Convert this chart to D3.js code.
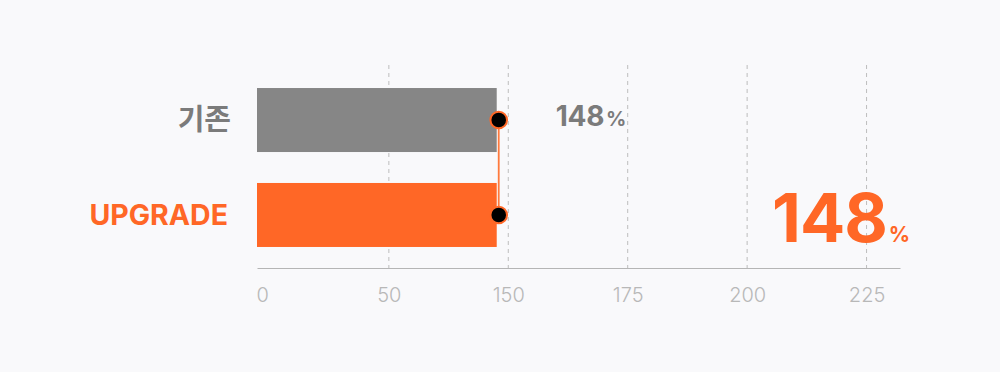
<!DOCTYPE html>
<html>
<head>
<meta charset="utf-8">
<script src="https://cdn.jsdelivr.net/npm/d3@7"></script>
<style>
  html, body { margin: 0; padding: 0; background: #f9f9fb; }
  svg { display: block; font-family: Inter, "Noto Sans CJK KR", "Noto Sans", sans-serif; }
</style>
</head>
<body>
<svg id="chart" width="1000" height="372"></svg>
<script>
// ---- data ----
const categories = ["기존", "UPGRADE"];
const values = [148, 148];
const colors = ["#868686", "#ff6726"];
const labelColors = ["#7b7b7b", "#ff6726"];
// axis: visible scale section and the tick labels shown under it
const gridValues = [125, 150, 175, 200, 225];
const tickLabels = ["0", "50", "150", "175", "200", "225"];
const domainX = [97.4, 232];

(function () {
const svg = d3.select("#chart");
const mLeft = 257, mRight = 900, mTop = 65, mBottom = 268;

const x = d3.scaleLinear().domain(domainX).range([mLeft, mRight]);
const y = d3.scaleBand().domain(categories).range([mTop + 1, mBottom + 1])
  .paddingInner(0.326).paddingOuter(0.232);

// gridlines
svg.append("g").selectAll("line").data(gridValues).join("line")
  .attr("x1", d => x(d)).attr("x2", d => x(d))
  .attr("y1", mTop).attr("y2", mBottom)
  .attr("stroke", "#bdbdbd").attr("stroke-width", 1)
  .attr("stroke-dasharray", "4,4");

// axis
const tickPositions = [domainX[0]].concat(gridValues);
const axis = d3.axisBottom(x).tickValues(tickPositions)
  .tickSize(0).tickPadding(0)
  .tickFormat((d, i) => tickLabels[i]);
const gAxis = svg.append("g").attr("transform", `translate(0,${mBottom})`).call(axis);
gAxis.select(".domain").attr("stroke", "#b5b5b5").attr("stroke-width", 1.2);
gAxis.selectAll(".tick text")
  .attr("y", 34)
  .attr("dy", 0)
  .attr("fill", "#b8b8b8")
  .attr("font-size", 20)
  .attr("font-weight", 300)
  .attr("font-family", "Inter, sans-serif")
  .attr("text-anchor", (d, i) => i === 0 ? "start" : "middle")
  .attr("dx", (d, i) => i === 0 ? -1 : 0);

// bars
svg.append("g").selectAll("rect").data(categories).join("rect")
  .attr("x", mLeft)
  .attr("y", d => y(d))
  .attr("width", (d, i) => x(values[i]) - mLeft - 2)
  .attr("height", y.bandwidth())
  .attr("fill", (d, i) => colors[i]);

// category labels
svg.append("g").selectAll("text").data(categories).join("text")
  .attr("x", (d, i) => i === 0 ? 231 : 228)
  .attr("y", d => y(d) + y.bandwidth() / 2)
  .attr("dy", "0.36em")
  .attr("text-anchor", "end")
  .attr("fill", (d, i) => labelColors[i])
  .attr("font-size", (d, i) => i === 0 ? 29 : 28.5)
  .attr("font-weight", 700)
  .text(d => d);

// connector line
const cy = categories.map(c => y(c) + y.bandwidth() / 2);
svg.append("line")
  .attr("x1", x(values[0])).attr("x2", x(values[1]))
  .attr("y1", cy[0]).attr("y2", cy[1])
  .attr("stroke", "#ff7a3d").attr("stroke-width", 1.8);

// dots
svg.append("g").selectAll("circle").data(categories).join("circle")
  .attr("cx", (d, i) => x(values[i]))
  .attr("cy", (d, i) => cy[i])
  .attr("r", 8.3)
  .attr("fill", "#000")
  .attr("stroke", "#ff6726").attr("stroke-width", 2);

// value labels
const v0 = svg.append("text")
  .attr("x", x(values[0]) + 57)
  .attr("y", cy[0])
  .attr("dy", "0.36em")
  .attr("fill", "#7b7b7b")
  .attr("font-weight", 700);
v0.append("tspan").attr("font-size", 28).attr("letter-spacing", -0.3).text(values[0]);
v0.append("tspan").attr("font-size", 20).attr("dx", 2).text("%");

const v1 = svg.append("text")
  .attr("x", 772)
  .attr("y", 242)
  .attr("fill", "#ff6726")
  .attr("font-weight", 700);
v1.append("tspan").attr("font-size", 67).attr("letter-spacing", -1).text(values[1]);
v1.append("tspan").attr("font-size", 21).attr("dx", 2).text("%");
})();
</script>
</body>
</html>
